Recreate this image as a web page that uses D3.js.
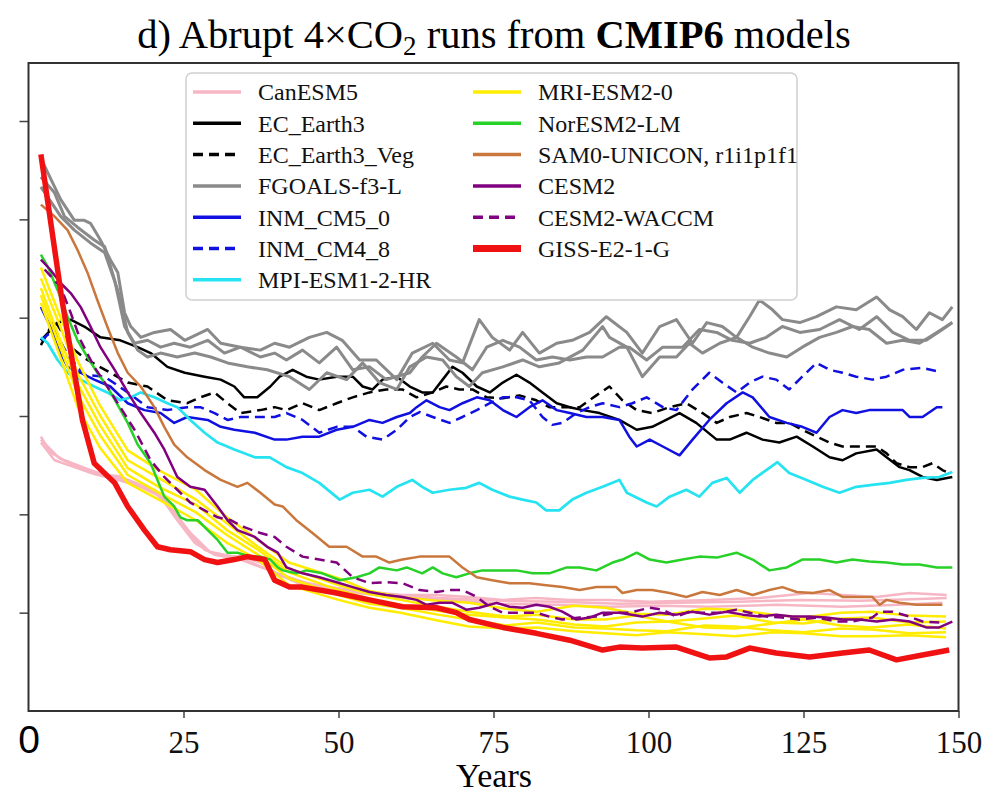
<!DOCTYPE html>
<html>
<head>
<meta charset="utf-8">
<script src="https://cdn.jsdelivr.net/npm/d3@7"></script>
<style>
body { margin: 0; background: #fff; }
text { font-family: "Liberation Serif", "DejaVu Serif", serif; }
</style>
</head>
<body>
<svg id="chart" width="1000" height="800"></svg>
<script>
// values, [year, value]
var canesm5A = [[2,2.79],[3.5,2.63],[5.8,2.55],[7.9,2.50],[10,2.45],[12.3,2.40],[14.4,2.39],[16.5,2.34],[18.7,2.28],[20.3,2.25],[22.4,2.12],[24,1.99],[26.1,1.79],[28.4,1.64],[31,1.58],[34.2,1.57],[37.4,1.51],[40.5,1.38],[44.2,1.31],[49.7,1.25],[55,1.21],[60.3,1.18],[65.8,1.18],[71.1,1.16],[76.5,1.13],[81.9,1.15],[87.3,1.13],[93.7,1.13],[100.2,1.11],[109.8,1.13],[117.9,1.15],[126,1.20],[136.8,1.16],[142.1,1.20],[148.1,1.18]];
var canesm5B = [[2,2.73],[4.2,2.55],[7.4,2.48],[10.6,2.41],[14.4,2.35],[18.1,2.28],[21.3,2.18],[24,1.94],[26.8,1.71],[30,1.59],[34.2,1.54],[38.9,1.43],[44.2,1.28],[51.8,1.21],[59.8,1.15],[67.9,1.13],[76,1.09],[85.6,1.08],[93.7,1.06],[101.8,1.07],[109.8,1.06],[120.6,1.08],[131.3,1.06],[140.5,1.08],[147.4,1.10]];
var canesm5C = [[2,2.76],[5,2.57],[9,2.45],[13.1,2.39],[17.1,2.32],[20.3,2.23],[23.5,2.02],[26,1.82],[29.2,1.62],[34,1.56],[39.7,1.41],[46.9,1.26],[56.6,1.19],[66.3,1.15],[76,1.12],[85.6,1.11],[95.3,1.09],[105,1.10],[114.7,1.11],[124.4,1.13],[134,1.12],[143.7,1.14],[148.1,1.15]];

var ecEarth3 = [[2,3.77],[4.7,3.95],[6.8,3.98],[9,3.91],[11.6,3.80],[14.8,3.77],[17.6,3.70],[19.7,3.64],[22.4,3.50],[25.2,3.44],[28.4,3.40],[31,3.37],[33.2,3.30],[34.8,3.19],[36.9,3.19],[39,3.30],[40.5,3.40],[42.6,3.47],[44.8,3.40],[46.9,3.37],[49.7,3.40],[52.3,3.40],[53.9,3.30],[55.5,3.27],[57.1,3.37],[59.4,3.40],[61.5,3.30],[63.5,3.24],[65.2,3.24],[66.8,3.37],[68.4,3.50],[70,3.44],[72.3,3.30],[74.4,3.24],[76.5,3.34],[78.7,3.42],[80.8,3.34],[82.9,3.24],[85.2,3.13],[87.3,3.09],[89.4,3.06],[92.1,3.03],[95.3,2.96],[98.1,2.86],[100.6,2.89],[105,3.03],[107.7,2.93],[111,2.76],[113.1,2.76],[115.8,2.83],[118.4,2.76],[121.1,2.73],[123.9,2.79],[126.5,2.69],[129.2,2.58],[131.3,2.55],[133.5,2.62],[136.8,2.66],[138.4,2.58],[140.5,2.48],[142.1,2.45],[144.2,2.38],[146.5,2.35],[149,2.38]];

var ecEarth3Veg = [[2,3.72],[4.2,3.98],[6.8,3.70],[9.5,3.57],[13.2,3.44],[16,3.34],[19.2,3.30],[22.4,3.16],[25.6,3.13],[27.7,3.19],[30,3.24],[32.1,3.13],[34.2,3.03],[37.4,3.06],[39.7,3.09],[41.6,3.06],[44.2,3.13],[46.9,3.06],[49.7,3.13],[52.3,3.19],[55,3.24],[57.7,3.27],[60.3,3.27],[62.6,3.19],[65.2,3.24],[67.4,3.30],[69.5,3.27],[71.6,3.27],[73.9,3.19],[76.5,3.18],[79.2,3.21],[81.9,3.16],[84,3.09],[86.1,3.09],[88.9,3.09],[91.6,3.21],[93.7,3.30],[95.8,3.16],[98.1,3.06],[100.6,3.03],[103.4,3.09],[106.1,3.13],[108.7,3.03],[111,2.93],[113.1,2.99],[115.8,3.03],[117.9,2.99],[120.6,2.93],[122.7,2.93],[124.8,2.86],[127.1,2.79],[129.2,2.73],[131.3,2.69],[134.5,2.69],[136.8,2.69],[138.4,2.62],[140,2.52],[142.1,2.48],[144.2,2.48],[145.8,2.52],[147.4,2.45],[148.5,2.42]];

var fgoalsA = [[2,5.62],[5.2,5.20],[7.4,4.99],[9,4.99],[10,4.96],[11.6,4.79],[13.2,4.59],[14.4,4.46],[15.5,4.05],[16.5,3.91],[18.1,3.80],[20.3,3.85],[22.9,3.88],[25.2,3.77],[28.9,3.88],[31,3.74],[34.2,3.70],[37.4,3.67],[39.7,3.74],[42.1,3.70],[45.3,3.80],[48.1,3.85],[50.6,3.77],[53.4,3.57],[56.1,3.57],[59.4,3.37],[61.9,3.64],[65.2,3.74],[67.9,3.57],[70,3.54],[72.7,3.98],[74.8,3.80],[77.6,3.67],[79.7,3.85],[82.4,3.64],[85.2,3.74],[87.7,3.77],[90.5,3.85],[93.2,4.01],[96.5,3.85],[99,3.64],[101.8,3.91],[104.5,3.98],[107.1,3.74],[109.4,3.95],[111.9,3.91],[114.2,3.80],[116.3,4.01],[117.9,4.18],[120,4.08],[121.6,3.98],[124.4,3.95],[127.1,4.01],[130.3,4.11],[133.5,4.08],[136.8,4.21],[138.9,4.08],[141,4.01],[143.2,3.88],[145.3,4.05],[147.4,3.98],[149,4.11]];
var fgoalsB = [[2,5.43],[4.2,5.27],[5.8,5.03],[7.9,4.92],[10.6,4.79],[12.3,4.72],[13.9,4.38],[15.5,3.91],[17.1,3.74],[19.2,3.77],[21.3,3.70],[23.5,3.74],[26.1,3.70],[28.9,3.77],[31.6,3.64],[34.2,3.70],[37.4,3.60],[39.7,3.64],[41.6,3.57],[44.2,3.67],[46.9,3.54],[49.7,3.70],[52.3,3.47],[55,3.50],[57.7,3.37],[61.5,3.44],[63.5,3.60],[65.8,3.74],[69,3.60],[71.6,3.47],[73.9,3.70],[76.5,3.77],[79.2,3.70],[81.9,3.57],[84.5,3.60],[87.3,3.57],[90,3.60],[92.6,3.60],[95.3,3.70],[96.9,3.70],[99.7,3.57],[102.3,3.70],[105.5,3.70],[108.2,3.88],[111,3.85],[113.5,3.77],[116.3,3.74],[119,3.80],[121.6,3.91],[124.4,3.85],[127.6,3.88],[130.8,3.98],[134,3.88],[136.8,4.01],[139.4,3.85],[142.1,3.77],[144.8,3.77],[147.4,3.88],[149,3.95]];
var fgoalsC = [[2,5.33],[5.2,5.03],[7.4,4.89],[10,4.76],[12.3,4.66],[14.4,4.28],[16,3.85],[17.6,3.67],[19.2,3.60],[21.3,3.64],[24,3.60],[26.8,3.64],[29.4,3.60],[32.1,3.54],[35.3,3.50],[38.5,3.47],[42.1,3.40],[45.3,3.27],[48.1,3.44],[51.3,3.37],[53.9,3.54],[56.6,3.34],[59.4,3.27],[61.5,3.50],[64.2,3.60],[66.8,3.57],[69,3.40],[71.1,3.30],[73.2,3.44],[76.5,3.50],[79.7,3.57],[82.4,3.50],[85.6,3.54],[89.4,3.67],[92.6,3.91],[93.7,3.80],[96.5,3.70],[99,3.40],[101.8,3.60],[104.5,3.60],[106.6,3.74],[108.7,3.64],[111.5,3.74],[114.2,3.80],[116.8,3.70],[119.5,3.64],[122.3,3.60],[124.8,3.70],[127.6,3.80],[130.3,3.85],[132.9,3.91],[135.6,3.88],[138.4,3.74],[141,3.77],[143.7,3.74],[146.5,3.85],[149,3.95]];

var inmCm50 = [[2,4.11],[3.5,3.91],[4.7,3.70],[6.3,3.50],[8.4,3.44],[10.6,3.37],[13.2,3.30],[16,3.13],[18.7,3.06],[21.3,3.03],[23.5,2.93],[25.6,2.99],[28.9,2.96],[31,2.89],[33.2,2.86],[36.5,2.83],[39.7,2.76],[41.6,2.76],[44.2,2.79],[46.9,2.79],[49.7,2.86],[52.3,2.89],[55,2.96],[57.1,2.93],[59.4,2.99],[61.5,3.03],[62.6,3.09],[64.2,3.16],[66.3,3.09],[67.9,3.06],[70,3.13],[72.3,3.19],[74.4,3.16],[76.5,3.06],[78.7,2.99],[80.8,3.09],[82.9,3.16],[85.2,3.06],[87.3,3.03],[90,2.99],[92.6,2.99],[95.3,2.96],[96.9,2.79],[98.1,2.69],[100.2,2.76],[102.3,2.69],[105,2.60],[107.1,2.76],[109.8,2.96],[112.6,3.13],[115.2,3.24],[116.8,3.19],[119.5,2.99],[122.3,2.93],[124.8,2.89],[127.1,2.83],[129.2,2.99],[131.3,3.06],[133.5,3.03],[135.6,3.06],[138.9,3.06],[141,3.06],[142.1,2.99],[144.2,2.99],[146.5,3.09],[147.4,3.09]];

var inmCm48 = [[2,3.77],[4.2,3.88],[6.3,3.62],[9,3.42],[12.3,3.40],[16,3.24],[19.2,3.09],[22.4,3.06],[25.6,3.09],[27.7,3.09],[30,3.03],[32.1,2.96],[34.2,2.99],[37.4,2.99],[39.7,2.99],[41.6,3.03],[44.2,2.96],[46.9,2.83],[49.7,2.89],[52.3,2.89],[54.5,2.79],[57.1,2.76],[59.4,2.86],[61.5,2.99],[63.1,3.04],[65.2,2.99],[67.9,2.93],[70,2.99],[72.3,3.06],[74.4,3.13],[76.5,3.19],[78.7,3.19],[80.8,3.16],[82.9,2.99],[84.5,2.91],[86.1,2.93],[88.4,3.03],[90.5,3.09],[92.6,3.13],[95.3,3.09],[97.4,3.13],[99.7,3.19],[102.3,3.09],[104.5,3.06],[107.1,3.27],[109.8,3.44],[111.9,3.34],[114.2,3.24],[116.3,3.34],[118.4,3.40],[120.6,3.37],[122.7,3.27],[124.8,3.40],[127.1,3.54],[129.2,3.47],[131.3,3.44],[133.5,3.40],[136.1,3.37],[138.4,3.40],[141,3.47],[144.2,3.49],[146.9,3.45]];

var mpiHr = [[2,3.80],[3.1,3.74],[4.7,3.57],[6.3,3.44],[8.4,3.37],[10.6,3.30],[12.7,3.24],[14.8,3.16],[16.5,3.19],[18.1,3.24],[20.3,3.19],[22.4,3.13],[24,3.09],[26.1,2.96],[28.4,2.83],[30.5,2.73],[33.2,2.66],[36.5,2.58],[38.9,2.58],[41.6,2.48],[44.2,2.42],[46.9,2.32],[50.2,2.15],[52.3,2.22],[55,2.25],[57.1,2.18],[59.4,2.28],[61.9,2.35],[63.5,2.28],[65.2,2.22],[67.9,2.25],[70.6,2.27],[72.7,2.32],[74.8,2.25],[77.6,2.18],[79.7,2.15],[81.9,2.12],[83.5,2.04],[85.6,2.04],[87.7,2.15],[90,2.22],[92.6,2.28],[95.3,2.35],[96.5,2.22],[99.7,2.12],[101.3,2.08],[103.4,2.18],[106.1,2.25],[108.2,2.18],[110.3,2.32],[112.6,2.37],[114.7,2.22],[116.8,2.35],[119,2.45],[120.8,2.53],[122.7,2.42],[125.5,2.35],[128.1,2.28],[130.8,2.22],[133.5,2.28],[136.1,2.30],[138.9,2.32],[141.6,2.35],[144.2,2.37],[146.9,2.38],[149,2.43]];

var mriYears = [2,5,8,11.5,16,21,27,32,37,42,50,55,60,66,71,77,82,88,93,98,103,109,114,120,125,131,136,142,148];
var mriRun1 = [4.51,4.03,3.55,3.11,2.65,2.45,2.25,1.97,1.74,1.51,1.35,1.22,1.16,1.12,1.10,1.04,1.01,1.07,1.05,0.99,0.98,1.04,1.03,0.98,0.95,1.00,1.01,0.97,0.96];
var mriRun2 = [4.40,3.93,3.42,3.01,2.55,2.37,2.15,1.91,1.67,1.45,1.28,1.19,1.13,1.06,1.01,0.96,0.98,0.93,0.93,0.97,0.91,0.94,0.97,0.90,0.89,0.94,0.95,0.90,0.91];
var mriRun3 = [4.30,3.79,3.32,2.91,2.47,2.28,2.10,1.84,1.64,1.41,1.23,1.14,1.08,1.02,0.98,0.95,0.93,0.88,0.86,0.90,0.91,0.85,0.84,0.89,0.93,0.87,0.85,0.88,0.84];
var mriRun4 = [4.23,3.72,3.21,2.81,2.40,2.22,2.02,1.79,1.59,1.35,1.18,1.09,1.05,0.98,0.93,0.87,0.90,0.85,0.84,0.82,0.81,0.87,0.86,0.82,0.80,0.84,0.83,0.79,0.80];
var mriRun5 = [4.15,3.62,3.08,2.68,2.32,2.15,1.94,1.71,1.54,1.28,1.13,1.05,1.00,0.92,0.86,0.84,0.85,0.81,0.79,0.77,0.80,0.78,0.76,0.80,0.79,0.76,0.76,0.77,0.75];

var norEsm = [[2,4.64],[3.1,4.52],[4.7,4.28],[6.3,4.01],[7.9,3.77],[9.5,3.60],[11.1,3.44],[12.7,3.30],[14.4,3.11],[16,2.93],[17.6,2.71],[19.7,2.52],[20.8,2.35],[21.9,2.18],[23.5,2.08],[24.5,1.97],[25.6,1.94],[27.3,1.94],[28.9,1.84],[30.5,1.74],[32.1,1.61],[33.7,1.61],[35.8,1.57],[37.4,1.57],[39,1.54],[40.2,1.46],[41,1.43],[43.2,1.40],[44.8,1.43],[47.4,1.40],[50.2,1.33],[52.9,1.36],[55,1.40],[56.6,1.46],[59.4,1.43],[61,1.46],[63.5,1.40],[65.2,1.46],[66.8,1.40],[69,1.36],[71.1,1.40],[73.2,1.43],[76,1.43],[78.7,1.43],[81.3,1.40],[84,1.40],[86.8,1.46],[88.9,1.46],[91.6,1.43],[94.2,1.51],[95.8,1.54],[98.1,1.61],[100.2,1.54],[102.9,1.51],[105.5,1.54],[108.2,1.57],[111,1.56],[114.2,1.61],[116.8,1.54],[119.5,1.43],[122.3,1.46],[124.8,1.54],[127.6,1.54],[130.3,1.51],[132.9,1.54],[135.6,1.52],[138.4,1.51],[141,1.49],[143.7,1.49],[146.5,1.46],[149,1.46]];

var sam0 = [[2,5.15],[4.2,5.03],[6.3,4.89],[7.9,4.69],[9.5,4.46],[11.1,4.18],[12.7,3.91],[14.4,3.64],[16,3.44],[18.1,3.30],[20.3,3.09],[21.9,2.89],[23.5,2.71],[25.6,2.58],[28.4,2.45],[31,2.35],[33.7,2.28],[35.3,2.32],[37.4,2.22],[39.7,2.10],[41,2.08],[43.2,1.94],[45.8,1.81],[48.5,1.67],[51.3,1.67],[53.9,1.57],[56.1,1.57],[58.2,1.51],[60.3,1.54],[63.1,1.57],[65.8,1.57],[67.9,1.57],[70,1.46],[72.3,1.36],[74.8,1.33],[77.6,1.30],[80.8,1.30],[83.5,1.28],[86.1,1.26],[88.9,1.23],[91.6,1.26],[94.8,1.26],[95.8,1.20],[98.1,1.23],[100.6,1.23],[103.4,1.20],[106.1,1.16],[108.7,1.21],[111.5,1.18],[114.2,1.23],[116.8,1.18],[119.5,1.23],[121.6,1.26],[123.9,1.21],[126.5,1.20],[129.2,1.23],[131.3,1.16],[133.5,1.16],[136.1,1.16],[137.3,1.08],[138.4,1.13],[140.5,1.10],[143.2,1.08],[145.3,1.08],[147.4,1.08]];

var cesm2 = [[2,4.59],[3.5,4.49],[5.2,4.35],[6.8,4.25],[8.4,4.11],[10,3.91],[11.6,3.70],[13.9,3.47],[16,3.24],[18.1,3.03],[20.3,2.83],[21.9,2.66],[24,2.38],[26.1,2.28],[28.4,2.25],[30.5,2.08],[32.1,1.94],[33.7,1.84],[36.5,1.77],[38.5,1.67],[40.2,1.61],[41.6,1.46],[44.2,1.40],[46.9,1.36],[49.7,1.31],[52.3,1.26],[55,1.21],[57.7,1.18],[60.3,1.16],[62.6,1.13],[64.2,1.08],[66.3,1.10],[68.4,1.10],[70.6,1.03],[72.7,1.05],[75.5,1.10],[77.6,1.06],[79.7,1.05],[81.9,1.08],[84,1.06],[86.1,1.01],[88.4,0.93],[90.5,0.95],[92.6,1.00],[95.3,1.00],[99,0.96],[101.8,1.00],[104.5,0.98],[107.1,1.01],[109.8,0.98],[112.6,1.01],[115.2,0.98],[117.9,0.96],[120.6,0.98],[123.2,0.96],[126,0.96],[128.7,0.95],[131.3,0.93],[134,0.93],[136.8,0.91],[139.4,0.93],[142.1,0.91],[144.8,0.85],[146.9,0.85],[149,0.91]];

var cesm2Waccm = [[2.6,4.49],[5.2,4.31],[6.8,4.05],[8.4,3.77],[10.6,3.50],[12.7,3.30],[14.8,3.09],[17.1,2.86],[19.7,2.55],[21.9,2.38],[24,2.25],[26.1,2.12],[28.4,2.04],[30.5,1.97],[32.6,1.94],[34.8,1.87],[37.4,1.81],[39.7,1.77],[41.6,1.67],[44.2,1.57],[46.9,1.54],[49.7,1.51],[52.3,1.36],[55,1.30],[57.7,1.31],[60.3,1.30],[63.1,1.23],[65.8,1.21],[67.9,1.23],[70,1.23],[72.3,1.16],[74.4,1.06],[76.5,1.00],[79.2,1.00],[81.9,1.00],[84,0.96],[86.1,0.93],[88.9,0.95],[91.6,0.96],[94.8,1.00],[96.9,1.00],[100.2,1.05],[102.3,1.03],[104.5,0.96],[106.6,1.01],[108.7,1.00],[111.5,1.00],[114.2,1.03],[116.3,1.00],[119,0.96],[121.6,0.95],[124.4,0.93],[127.1,0.95],[130.3,0.91],[132.9,0.91],[136.1,0.95],[137.3,1.01],[139.4,1.01],[142.1,0.96],[144.2,0.91],[146.9,0.90]];

var gissE21G = [[2,5.66],[5.4,4.18],[8.7,2.96],[10.6,2.52],[13.9,2.32],[16,2.08],[18.7,1.84],[20.8,1.67],[22.9,1.64],[26.1,1.62],[28.4,1.54],[30.5,1.51],[33.2,1.54],[35.3,1.57],[38.1,1.54],[39.7,1.33],[42.1,1.26],[44.2,1.26],[49.7,1.20],[55,1.13],[60.3,1.06],[65.8,1.05],[69,1.00],[71.1,0.93],[76.5,0.85],[81.9,0.79],[87.3,0.72],[92.6,0.62],[95.3,0.65],[99,0.64],[104.5,0.65],[109.8,0.54],[112.6,0.55],[116.3,0.64],[120.6,0.59],[126,0.55],[131.3,0.59],[135.6,0.62],[140,0.52],[144.2,0.57],[148.5,0.62]];

var xTicks = [25, 50, 75, 100, 125, 150];
var yTicks = [1, 2, 3, 4, 5, 6];

function zipRun(vals) {
  return vals.map(function(v, i) { return [mriYears[i], v]; });
}

// name, colour, dash, width, runs  (legend order = drawing order)
var models = [
  {name: 'CanESM5', color: '#f7b6c4', dash: null, w: 2.5, runs: [canesm5A, canesm5B, canesm5C]},
  {name: 'EC_Earth3', color: '#000000', dash: null, w: 2.5, runs: [ecEarth3]},
  {name: 'EC_Earth3_Veg', color: '#000000', dash: '10,6', w: 2.5, runs: [ecEarth3Veg]},
  {name: 'FGOALS-f3-L', color: '#8a8a8a', dash: null, w: 3, runs: [fgoalsA, fgoalsB, fgoalsC]},
  {name: 'INM_CM5_0', color: '#1010e0', dash: null, w: 2.5, runs: [inmCm50]},
  {name: 'INM_CM4_8', color: '#1010e0', dash: '10,6', w: 2.5, runs: [inmCm48]},
  {name: 'MPI-ESM1-2-HR', color: '#25e3f0', dash: null, w: 2.7, runs: [mpiHr]},
  {name: 'MRI-ESM2-0', color: '#ffec00', dash: null, w: 2.5, runs: [mriRun1, mriRun2, mriRun3, mriRun4, mriRun5].map(zipRun)},
  {name: 'NorESM2-LM', color: '#27d127', dash: null, w: 2.5, runs: [norEsm]},
  {name: 'SAM0-UNICON, r1i1p1f1', color: '#c9773c', dash: null, w: 2.5, runs: [sam0]},
  {name: 'CESM2', color: '#800080', dash: null, w: 2.5, runs: [cesm2]},
  {name: 'CESM2-WACCM', color: '#800080', dash: '10,6', w: 2.5, runs: [cesm2Waccm]},
  {name: 'GISS-E2-1-G', color: '#f01212', dash: null, w: 5.5, runs: [gissE21G]}
];

var svg = d3.select('#chart');
var plotLeft = 28.5, plotRight = 958.5, plotTop = 63, plotBottom = 711;

var xScale = d3.scaleLinear().domain([0, 150]).range([plotLeft, plotRight]);
var yScale = d3.scaleLinear().domain([0, 6.59]).range([plotBottom, plotTop]);

// title
var title = svg.append('text')
  .attr('x', 494).attr('y', 48)
  .attr('text-anchor', 'middle')
  .style('font-size', '40.5px');
title.append('tspan').text('d) Abrupt 4\u00d7CO');
title.append('tspan').attr('baseline-shift', '-25%').style('font-size', '27px').text('2');
title.append('tspan').text(' runs from ');
title.append('tspan').style('font-weight', 'bold').text('CMIP6');
title.append('tspan').text(' models');

// lines
var line = d3.line()
  .x(function(d) { return xScale(d[0]); })
  .y(function(d) { return yScale(d[1]); });

var lineGroup = svg.append('g');
models.forEach(function(m) {
  m.runs.forEach(function(run) {
    lineGroup.append('path')
      .datum(run)
      .attr('d', line)
      .attr('fill', 'none')
      .attr('stroke', m.color)
      .attr('stroke-width', m.w)
      .attr('stroke-linejoin', 'round')
      .attr('stroke-dasharray', m.dash);
  });
});

// axes
var xAxis = svg.append('g')
  .attr('transform', 'translate(0,' + plotBottom + ')')
  .call(d3.axisBottom(xScale).tickValues(xTicks).tickSize(7).tickPadding(13));
xAxis.select('.domain').remove();
xAxis.selectAll('line').attr('stroke', '#444').attr('stroke-width', 1.5);
xAxis.selectAll('text')
  .attr('fill', '#111')
  .style('font-family', '"Liberation Serif", serif')
  .style('font-size', '31px');

var yAxis = svg.append('g')
  .attr('transform', 'translate(' + plotLeft + ',0)')
  .call(d3.axisLeft(yScale).tickValues(yTicks).tickSize(9).tickFormat(''));
yAxis.select('.domain').remove();
yAxis.selectAll('line').attr('stroke', '#444').attr('stroke-width', 1.5);

svg.append('rect')
  .attr('x', plotLeft).attr('y', plotTop)
  .attr('width', plotRight - plotLeft).attr('height', plotBottom - plotTop)
  .attr('fill', 'none').attr('stroke', '#333').attr('stroke-width', 2);

svg.append('text')
  .attr('x', 29).attr('y', 753)
  .attr('text-anchor', 'middle')
  .style('font-family', '"Liberation Sans", sans-serif')
  .style('font-size', '39px')
  .text('0');

svg.append('text')
  .attr('x', 494).attr('y', 787)
  .attr('text-anchor', 'middle')
  .style('font-size', '34px')
  .text('Years');

// legend
var legend = svg.append('g');
legend.append('rect')
  .attr('x', 186).attr('y', 73).attr('width', 611).attr('height', 227)
  .attr('rx', 6)
  .attr('fill', '#fff').attr('fill-opacity', 0.85)
  .attr('stroke', '#d0d0d0').attr('stroke-width', 1.5);

models.forEach(function(m, i) {
  var col = i < 7 ? 0 : 1;
  var row = col === 0 ? i : i - 7;
  var x0 = col === 0 ? 193 : 473;
  var y0 = 92 + row * 31.3;
  legend.append('line')
    .attr('x1', x0).attr('x2', x0 + 48)
    .attr('y1', y0).attr('y2', y0)
    .attr('stroke', m.color)
    .attr('stroke-width', m.w === 5.5 ? 7 : 3.5)
    .attr('stroke-dasharray', m.dash);
  legend.append('text')
    .attr('x', x0 + 65).attr('y', y0)
    .attr('dy', '0.35em')
    .style('font-size', '24px')
    .attr('fill', '#111')
    .text(m.name);
});
</script>
</body>
</html>
